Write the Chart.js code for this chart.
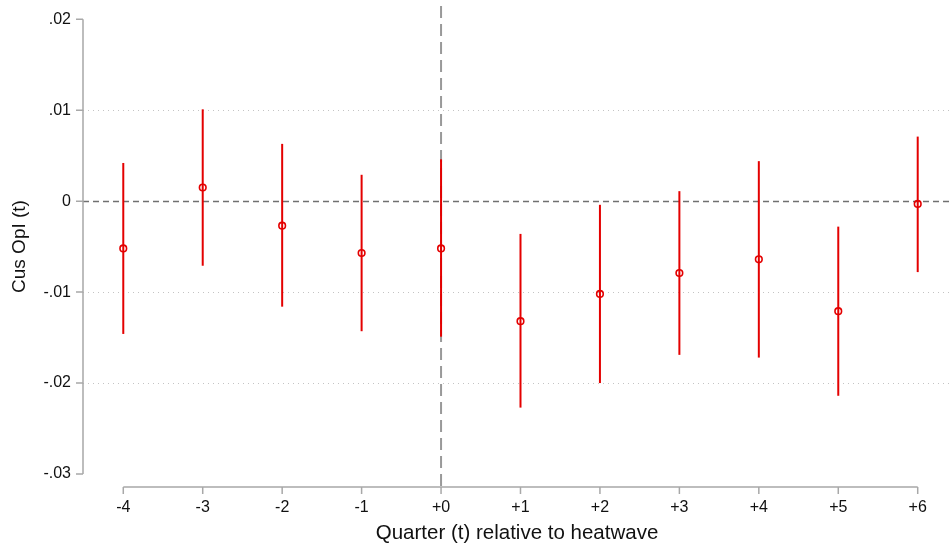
<!DOCTYPE html>
<html>
<head>
<meta charset="utf-8">
<script src="https://cdn.jsdelivr.net/npm/chart.js@4.4.1/dist/chart.umd.min.js"></script>
<style>
  html, body { margin: 0; padding: 0; background: #fff; }
  #wrap { width: 951px; height: 548px; }
</style>
</head>
<body>
<div id="wrap"><canvas id="c" width="951" height="548"></canvas></div>
<script>
// ---- data ----
const quarters = [-4, -3, -2, -1, 0, 1, 2, 3, 4, 5, 6];
const xTickLabels = ['-4', '-3', '-2', '-1', '+0', '+1', '+2', '+3', '+4', '+5', '+6'];
const coef   = [-0.0052, 0.0015, -0.0027, -0.0057, -0.0052, -0.0132, -0.0102, -0.0079, -0.0064, -0.0121, -0.0003];
const ciLow  = [-0.0146, -0.0071, -0.0116, -0.0143, -0.0149, -0.0227, -0.0200, -0.0169, -0.0172, -0.0214, -0.0078];
const ciHigh = [0.0042, 0.0101, 0.0063, 0.0029, 0.0046, -0.0036, -0.0004, 0.0011, 0.0044, -0.0028, 0.0071];
const yTickValues = [0.02, 0.01, 0, -0.01, -0.02, -0.03];
const yTickLabels = ['.02', '.01', '0', '-.01', '-.02', '-.03'];
const yGridValues = [0.01, -0.01, -0.02];
const eventQuarter = 0;   // vertical reference line
const zeroEffect = 0;     // horizontal reference line

const RED = 'rgb(228,0,0)';
const AXIS = '#a8a8a8';

Chart.defaults.font.family = "'Liberation Sans', Arial, sans-serif";
Chart.defaults.color = '#111';

const whiskerSets = quarters.map((q, i) => ({
  type: 'line',
  data: [{ x: q, y: ciLow[i] }, { x: q, y: ciHigh[i] }],
  borderColor: RED,
  borderWidth: 2,
  pointRadius: 0,
  fill: false,
  order: 2
}));

const pointSet = {
  type: 'scatter',
  data: quarters.map((q, i) => ({ x: q, y: coef[i] })),
  pointStyle: 'circle',
  pointRadius: 3.3,
  pointBorderWidth: 1.6,
  pointBorderColor: RED,
  pointBackgroundColor: 'rgba(0,0,0,0)',
  order: 0
};

const stataAxes = {
  id: 'stataAxes',
  beforeDatasetsDraw(chart) {
    const { ctx, chartArea: a, scales: { x, y } } = chart;
    ctx.save();
    // horizontal zero line (dash-dot)
    const y0 = Math.round(y.getPixelForValue(zeroEffect)) + 0.5;
    ctx.strokeStyle = '#707070';
    ctx.lineWidth = 1.3;
    ctx.setLineDash([6, 4]);
    ctx.beginPath();
    ctx.moveTo(a.left, y0);
    ctx.lineTo(a.right, y0);
    ctx.stroke();
    // vertical event line
    const xv = x.getPixelForValue(eventQuarter);
    ctx.strokeStyle = '#999';
    ctx.lineWidth = 2;
    ctx.setLineDash([12, 6]);
    ctx.beginPath();
    ctx.moveTo(xv, a.top);
    ctx.lineTo(xv, a.bottom);
    ctx.stroke();
    ctx.restore();
  },
  afterDraw(chart) {
    const { ctx, chartArea: a, scales: { x, y } } = chart;
    ctx.save();
    ctx.strokeStyle = AXIS;
    ctx.lineWidth = 1.5;
    ctx.setLineDash([]);
    // y axis
    const yTop = y.getPixelForValue(yTickValues[0]);
    const yBot = y.getPixelForValue(yTickValues[yTickValues.length - 1]);
    ctx.beginPath();
    ctx.moveTo(a.left, yTop);
    ctx.lineTo(a.left, yBot);
    yTickValues.forEach(v => {
      const py = y.getPixelForValue(v);
      ctx.moveTo(a.left - 7, py);
      ctx.lineTo(a.left, py);
    });
    // x axis
    const xL = x.getPixelForValue(quarters[0]);
    const xR = x.getPixelForValue(quarters[quarters.length - 1]);
    ctx.moveTo(xL, a.bottom);
    ctx.lineTo(xR, a.bottom);
    quarters.forEach(q => {
      const px = x.getPixelForValue(q);
      ctx.moveTo(px, a.bottom);
      ctx.lineTo(px, a.bottom + 7);
    });
    ctx.stroke();
    ctx.restore();
  }
};

new Chart(document.getElementById('c'), {
  data: { datasets: [...whiskerSets, pointSet] },
  options: {
    responsive: false,
    animation: false,
    devicePixelRatio: 1,
    layout: { autoPadding: false, padding: { top: 6, right: 0, left: 0, bottom: 0 } },
    plugins: { legend: { display: false }, tooltip: { enabled: false } },
    scales: {
      x: {
        type: 'linear',
        min: -4.507,
        max: 6.419,
        afterBuildTicks: s => { s.ticks = quarters.map(v => ({ value: v })); },
        afterFit: s => { s.height = 61; s.paddingLeft = 0; s.paddingRight = 0; },
        grid: { display: false, drawTicks: false },
        border: { display: false },
        ticks: {
          padding: 11,
          font: { size: 16 },
          color: '#111',
          maxRotation: 0,
          autoSkip: false,
          callback: (v) => xTickLabels[quarters.indexOf(v)]
        },
        title: {
          display: true,
          text: 'Quarter (t) relative to heatwave',
          font: { size: 20.5 },
          color: '#111',
          padding: { top: 0, bottom: 2 }
        }
      },
      y: {
        type: 'linear',
        min: -0.03143,
        max: 0.02146,
        afterBuildTicks: s => { s.ticks = yTickValues.map(v => ({ value: v })); },
        afterFit: s => { s.width = 83; s.paddingTop = 0; s.paddingBottom = 0; },
        grid: {
          drawTicks: false,
          lineWidth: 1,
          color: c => (c.tick && yGridValues.some(g => Math.abs(g - c.tick.value) < 1e-9)) ? '#c4c4c4' : 'rgba(0,0,0,0)'
        },
        border: { display: false, dash: [1, 4] },
        ticks: {
          padding: 12,
          font: { size: 16 },
          color: '#111',
          autoSkip: false,
          callback: (v) => {
            const i = yTickValues.findIndex(t => Math.abs(t - v) < 1e-9);
            return i >= 0 ? yTickLabels[i] : '';
          }
        },
        title: {
          display: true,
          text: 'Cus OpI (t)',
          font: { size: 19 },
          color: '#111',
          padding: { top: 8, bottom: 0 }
        }
      }
    }
  },
  plugins: [stataAxes]
});
</script>
</body>
</html>
